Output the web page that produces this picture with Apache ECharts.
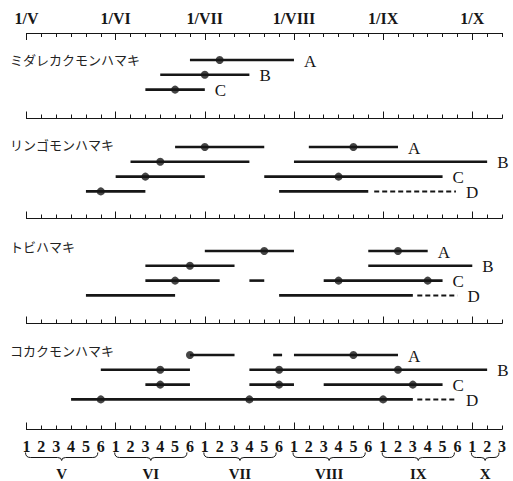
<!DOCTYPE html>
<html>
<head>
<meta charset="utf-8">
<script src="https://cdn.jsdelivr.net/npm/echarts@6/dist/echarts.min.js"></script>
<style>
html, body { margin: 0; padding: 0; background: #fff; }
#chart { width: 513px; height: 481px; }
</style>
</head>
<body>
<div id="chart"></div>
<script>
// x values are pentads counted from 1 May (0 = V-1, 6 = VI-1, ... 32 = X-3)
var species = ['ミダレカクモンハマキ', 'リンゴモンハマキ', 'トビハマキ', 'コカクモンハマキ'];
var rowLetters = ['A', 'B', 'C', 'D'];
var monthNames = ['V', 'VI', 'VII', 'VIII', 'IX', 'X'];
var monthStarts = [0, 6, 12, 18, 24, 30];
var pentadCount = 33;

// [panel, row, from, to]
var solidRanges = [
  [0, 0, 11, 18], [0, 1, 9, 15], [0, 2, 8, 12],
  [1, 0, 10, 16], [1, 0, 19, 25], [1, 1, 7, 15], [1, 1, 18, 31],
  [1, 2, 6, 12], [1, 2, 16, 28], [1, 3, 4, 8], [1, 3, 17, 23],
  [2, 0, 12, 18], [2, 0, 23, 27], [2, 1, 8, 14], [2, 1, 23, 30],
  [2, 2, 8, 13], [2, 2, 15, 16], [2, 2, 20, 28], [2, 3, 4, 10], [2, 3, 17, 26],
  [3, 0, 11, 14], [3, 0, 16.6, 17.2], [3, 0, 18, 25], [3, 1, 5, 11], [3, 1, 15, 31],
  [3, 2, 8, 11], [3, 2, 15, 18], [3, 2, 20, 28], [3, 3, 3, 26]
];
var dashedRanges = [
  [1, 3, 23.4, 28.9], [2, 3, 26.3, 29], [3, 3, 26.3, 28.9]
];
// [panel, row, peak]
var peaks = [
  [0, 0, 13], [0, 1, 12], [0, 2, 10],
  [1, 0, 12], [1, 0, 22], [1, 1, 9], [1, 2, 8], [1, 2, 21], [1, 3, 5],
  [2, 0, 16], [2, 0, 25], [2, 1, 11], [2, 2, 10], [2, 2, 21], [2, 2, 27],
  [3, 0, 11], [3, 0, 22], [3, 1, 9], [3, 1, 17], [3, 1, 25],
  [3, 2, 9], [3, 2, 17], [3, 2, 26], [3, 3, 5], [3, 3, 15], [3, 3, 24]
];

(function() {
  var ink = '#161616';
  var serif = '"Liberation Serif", "DejaVu Serif", serif';
  var kana = '"Noto Sans CJK JP", sans-serif';
  var rulerY = [33, 118.5, 218.5, 323.5, 429.5];
  var firstRowY = [60, 147, 251, 355];
  var titleTop = [53, 138, 240, 344];
  var rowGap = 14.8;
  var xMax = pentadCount - 1;

  var grid = [], xAxis = [], yAxis = [], series = [], title = [];

  function rulerAxis(gi, pos, long) {
    return {
      gridIndex: gi, type: 'value', position: pos, min: 0, max: xMax, interval: 1,
      axisLine: { show: !long, onZero: false, lineStyle: { color: ink, width: 1 } },
      axisTick: long
        ? { inside: true, length: 7, customValues: monthStarts, lineStyle: { color: ink, width: 1 } }
        : { inside: true, length: 4, lineStyle: { color: ink, width: 1 } },
      axisLabel: { show: false },
      splitLine: { show: false }
    };
  }

  function segItem(dashed) {
    return function(params, api) {
      var a = api.coord([api.value(0), api.value(2)]);
      var b = api.coord([api.value(1), api.value(2)]);
      return {
        type: 'line',
        shape: { x1: a[0], y1: a[1], x2: b[0], y2: b[1] },
        style: { stroke: ink, lineWidth: dashed ? 2 : 2.6, lineDash: dashed ? [5, 3] : null }
      };
    };
  }

  function ofPanel(list, p) {
    return list.filter(function(r) { return r[0] === p; });
  }

  var lastMain = 0;
  for (var i = 0; i < species.length; i++) {
    var h = rulerY[i + 1] - rulerY[i];
    grid.push({ left: 26.5, right: 11, top: rulerY[i], height: h });

    var main = xAxis.length;
    lastMain = main;
    var bottomAxis = rulerAxis(i, 'bottom', false);
    if (i === species.length - 1) {
      bottomAxis.axisLabel = {
        show: true, margin: 9, color: ink, fontFamily: serif, fontSize: 16, fontWeight: 'bold',
        formatter: function(v) { return String(v % 6 + 1); }
      };
    }
    xAxis.push(bottomAxis);
    xAxis.push(rulerAxis(i, 'bottom', true));
    if (i === 0) {
      var topAxis = rulerAxis(i, 'top', false);
      topAxis.axisLabel = {
        show: true, margin: 7, color: ink, fontFamily: serif, fontSize: 16, fontWeight: 'bold',
        customValues: monthStarts,
        formatter: function(v) { return '1/' + monthNames[monthStarts.indexOf(v)]; }
      };
      xAxis.push(topAxis);
      xAxis.push(rulerAxis(i, 'top', true));
    }

    var ymin = -(firstRowY[i] - rulerY[i]) / rowGap;
    yAxis.push({ gridIndex: i, type: 'value', inverse: true, min: ymin, max: ymin + h / rowGap, show: false });

    title.push({
      text: species[i], left: 10, top: titleTop[i], padding: 0,
      textStyle: { fontFamily: kana, fontSize: 13, fontWeight: 'normal', color: '#222' }
    });

    var solid = ofPanel(solidRanges, i);
    var dashed = ofPanel(dashedRanges, i);
    series.push({
      type: 'custom', xAxisIndex: main, yAxisIndex: i, renderItem: segItem(false),
      encode: { x: [0, 1], y: 2 },
      data: solid.map(function(r) { return [r[2], r[3], r[1]]; })
    });
    series.push({
      type: 'custom', xAxisIndex: main, yAxisIndex: i, renderItem: segItem(true),
      encode: { x: [0, 1], y: 2 },
      data: dashed.map(function(r) { return [r[2], r[3], r[1]]; })
    });
    series.push({
      type: 'scatter', xAxisIndex: main, yAxisIndex: i, symbol: 'circle', symbolSize: 8,
      itemStyle: { color: ink },
      data: ofPanel(peaks, i).map(function(r) { return [r[2], r[1]]; })
    });

    // row letters sit just right of each row's last range
    var ends = {};
    solid.concat(dashed).forEach(function(r) {
      ends[r[1]] = Math.max(ends[r[1]] || 0, r[3]);
    });
    series.push({
      type: 'custom', xAxisIndex: main, yAxisIndex: i, clip: false,
      encode: { x: 0, y: 1 },
      renderItem: function(params, api) {
        var p = api.coord([api.value(0), api.value(1)]);
        return {
          type: 'text',
          style: {
            x: p[0] + 10, y: p[1] + 1, text: rowLetters[api.value(1)],
            fill: ink, font: '17px ' + serif, textAlign: 'left', textVerticalAlign: 'middle'
          }
        };
      },
      data: Object.keys(ends).map(function(k) { return [ends[k], +k]; })
    });
  }

  // month braces under the bottom ruler
  series.push({
    type: 'custom', xAxisIndex: lastMain, yAxisIndex: species.length - 1, clip: false,
    encode: { x: [0, 1] },
    renderItem: function(params, api) {
      var cs = params.coordSys;
      var y0 = cs.y + cs.height + 28;
      var x0 = api.coord([api.value(0), 0])[0] - 1;
      var x1 = api.coord([api.value(1), 0])[0] - 3;
      var xm = (x0 + x1) / 2;
      var st = { stroke: ink, lineWidth: 1, fill: null };
      return {
        type: 'group',
        children: [
          { type: 'bezierCurve', shape: { x1: x0, y1: y0 - 5, cpx1: x0, cpy1: y0, x2: x0 + 5, y2: y0 }, style: st },
          { type: 'line', shape: { x1: x0 + 5, y1: y0, x2: xm - 4, y2: y0 }, style: st },
          { type: 'bezierCurve', shape: { x1: xm - 4, y1: y0, cpx1: xm, cpy1: y0, x2: xm, y2: y0 + 3 }, style: st },
          { type: 'bezierCurve', shape: { x1: xm, y1: y0 + 3, cpx1: xm, cpy1: y0, x2: xm + 4, y2: y0 }, style: st },
          { type: 'line', shape: { x1: xm + 4, y1: y0, x2: x1 - 5, y2: y0 }, style: st },
          { type: 'bezierCurve', shape: { x1: x1 - 5, y1: y0, cpx1: x1, cpy1: y0, x2: x1, y2: y0 - 5 }, style: st },
          {
            type: 'text',
            style: {
              x: xm, y: y0 + 16, text: monthNames[api.value(2)], fill: ink,
              font: 'bold 15px ' + serif, textAlign: 'center', textVerticalAlign: 'middle'
            }
          }
        ]
      };
    },
    data: monthStarts.map(function(s, k) {
      return [s, k < monthStarts.length - 1 ? s + 5 : xMax, k];
    })
  });

  var chart = echarts.init(document.getElementById('chart'), null, { renderer: 'svg' });
  chart.setOption({
    animation: false,
    backgroundColor: '#fff',
    title: title,
    grid: grid,
    xAxis: xAxis,
    yAxis: yAxis,
    series: series
  });
})();
</script>
</body>
</html>
